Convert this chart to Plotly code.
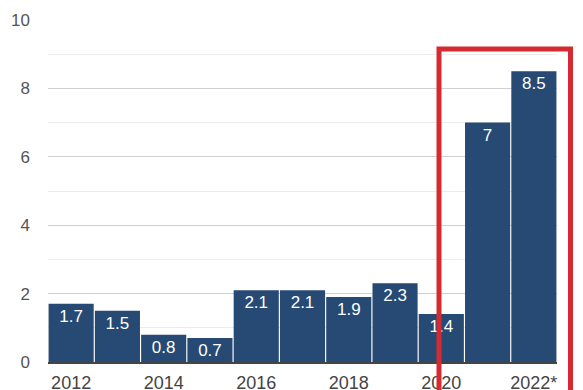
import plotly.graph_objects as go

years = ["2012", "2013", "2014", "2015", "2016", "2017", "2018", "2019", "2020", "2021", "2022*"]
values = [1.7, 1.5, 0.8, 0.7, 2.1, 2.1, 1.9, 2.3, 1.4, 7, 8.5]
labels = ["1.7", "1.5", "0.8", "0.7", "2.1", "2.1", "1.9", "2.3", "1.4", "7", "8.5"]
tick_years = ["2012", "2014", "2016", "2018", "2020", "2022*"]

xs = list(range(len(years)))

fig = go.Figure(go.Bar(
    x=xs, y=values, text=labels,
    textposition="inside", insidetextanchor="end",
    textfont=dict(color="white", size=17, family="Arial, Liberation Sans"),
    marker=dict(color="#264a73", line=dict(width=0)),
    cliponaxis=False,
))

fig.update_layout(
    width=583, height=390,
    margin=dict(l=48, r=26, t=20, b=28),
    plot_bgcolor="white", paper_bgcolor="white",
    bargap=0.025, showlegend=False,
    uniformtext=dict(minsize=17, mode="show"),
    font=dict(family="Arial, Liberation Sans", size=18, color="#555555"),
)
fig.update_xaxes(
    range=[-0.5, 10.5],
    tickmode="array",
    tickvals=[years.index(y) for y in tick_years],
    ticktext=tick_years,
    tickfont=dict(size=18, color="#444444"),
    showgrid=False, zeroline=False, automargin=False,
    showline=True, linecolor="#444444", linewidth=1.5,
    ticks="", ticklabelstandoff=4,
)
fig.update_yaxes(
    range=[0, 10], dtick=2, tick0=0,
    tickfont=dict(size=17, color="#555555"),
    showgrid=True, gridcolor="#d0d0d0", gridwidth=1,
    minor=dict(dtick=1, showgrid=True, gridcolor="#ececec", gridwidth=1),
    zeroline=False, ticks="", ticklabelstandoff=17, automargin=False,
)
fig.add_shape(
    type="rect", xref="paper", yref="paper",
    x0=(439 - 48) / 509, x1=(570.5 - 48) / 509,
    y0=(362 - 410) / 342, y1=(362 - 49) / 342,
    line=dict(color="#d42a30", width=5), fillcolor="rgba(0,0,0,0)",
)
fig.write_html("out.html")
